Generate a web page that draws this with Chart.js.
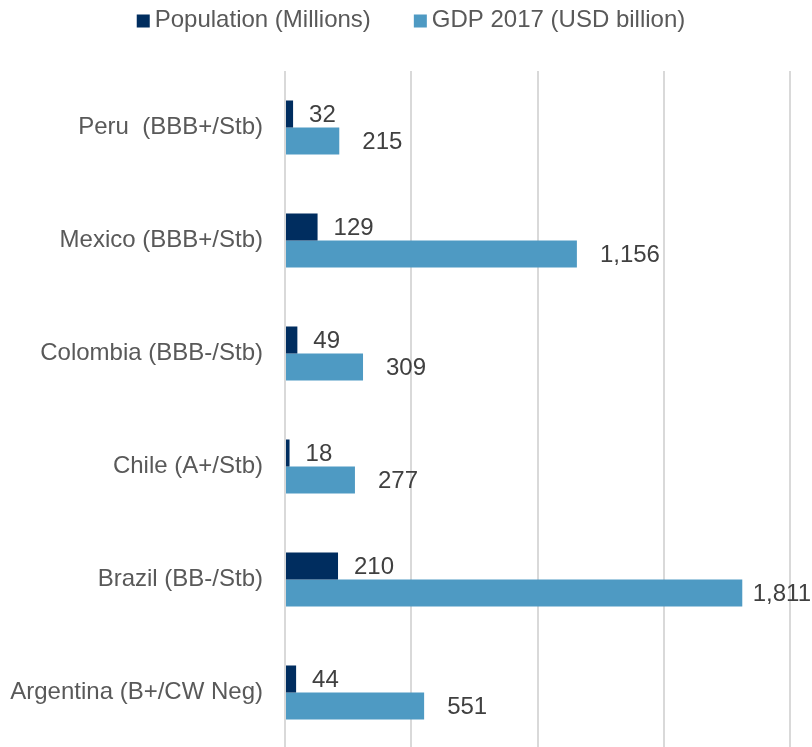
<!DOCTYPE html>
<html>
<head>
<meta charset="utf-8">
<script src="https://cdn.jsdelivr.net/npm/chart.js@4/dist/chart.umd.min.js"></script>
<style>
  html, body { margin: 0; padding: 0; background: #ffffff; overflow: hidden; }
  #wrap { width: 812px; height: 749px; position: relative; }
</style>
</head>
<body>
<div id="wrap"><canvas id="chart"></canvas></div>
<script>
// Countries with their sovereign rating / outlook
const countries = [
  'Peru  (BBB+/Stb)',
  'Mexico (BBB+/Stb)',
  'Colombia (BBB-/Stb)',
  'Chile (A+/Stb)',
  'Brazil (BB-/Stb)',
  'Argentina (B+/CW Neg)'
];
const population = [32, 129, 49, 18, 210, 44];        // millions
const gdp2017 = [215, 1156, 309, 277, 1811, 551];     // USD billion
const seriesNames = ['Population (Millions)', 'GDP 2017 (USD billion)'];
const seriesColors = ['#002d5f', '#4e9ac3'];
const xTicks = [0, 500, 1000, 1500, 2000];

const FONT = "'Liberation Sans', Arial, sans-serif";
const FONT_SIZE = 24;
const labelOffsets = [16, 23];

// Compact legend row across the top: small square swatch, tight gap, text
const topLegend = {
  id: 'topLegend',
  afterDraw(chart) {
    const ctx = chart.ctx;
    const box = 13, gap = 5, itemGap = 43, cy = 20;
    ctx.save();
    ctx.font = FONT_SIZE + 'px ' + FONT;
    ctx.textBaseline = 'middle';
    ctx.textAlign = 'left';
    const items = chart.data.datasets.map(ds => ({
      text: ds.label, color: ds.backgroundColor,
      w: box + gap + ctx.measureText(ds.label).width
    }));
    const total = items.reduce((s, it) => s + it.w, 0) + itemGap * (items.length - 1);
    let x = 411 - total / 2;
    items.forEach(it => {
      ctx.fillStyle = it.color;
      ctx.fillRect(x, cy - box / 2 + 1, box, box);
      ctx.fillStyle = '#595959';
      ctx.fillText(it.text, x + box + gap, cy);
      x += it.w + itemGap;
    });
    ctx.restore();
  }
};

// Value labels drawn just past the end of each bar
const valueLabels = {
  id: 'valueLabels',
  afterDatasetsDraw(chart) {
    const ctx = chart.ctx;
    ctx.save();
    ctx.font = FONT_SIZE + 'px ' + FONT;
    ctx.fillStyle = '#404040';
    ctx.textBaseline = 'middle';
    ctx.textAlign = 'left';
    chart.data.datasets.forEach((ds, di) => {
      const meta = chart.getDatasetMeta(di);
      meta.data.forEach((bar, i) => {
        const text = ds.data[i].toLocaleString('en-US');
        const w = ctx.measureText(text).width;
        let x = bar.x + labelOffsets[di];
        const limit = chart.width - 1;
        if (x + w > limit) x = limit - w;
        ctx.fillText(text, x, bar.y + 1);
      });
    });
    ctx.restore();
  }
};

new Chart(document.getElementById('chart'), {
  type: 'bar',
  data: {
    labels: countries,
    datasets: [
      { label: seriesNames[0], data: population, backgroundColor: seriesColors[0] },
      { label: seriesNames[1], data: gdp2017, backgroundColor: seriesColors[1] }
    ]
  },
  options: {
    indexAxis: 'y',
    responsive: true,
    maintainAspectRatio: false,
    animation: false,
    datasets: { bar: { categoryPercentage: 0.478, barPercentage: 1.0 } },
    layout: { padding: { left: 0, right: 22, top: 71, bottom: 0 } },
    plugins: {
      tooltip: { enabled: false },
      legend: { display: false }
    },
    scales: {
      x: {
        min: xTicks[0],
        max: xTicks[xTicks.length - 1],
        afterBuildTicks(scale) { scale.ticks = xTicks.map(v => ({ value: v })); },
        ticks: { display: false, padding: 0 },
        grid: { color: '#d9d9d9', lineWidth: 2, drawTicks: false },
        border: { display: false },
        afterFit(scale) { scale.height = 0; }
      },
      y: {
        grid: { display: false, drawTicks: false },
        border: { display: false },
        ticks: {
          color: '#595959',
          padding: 22,
          font: { family: FONT, size: FONT_SIZE }
        },
        afterFit(scale) {
          scale.width = 285;
          scale.paddingTop = 0;
          scale.paddingBottom = 0;
        }
      }
    }
  },
  plugins: [valueLabels, topLegend]
});
</script>
</body>
</html>
